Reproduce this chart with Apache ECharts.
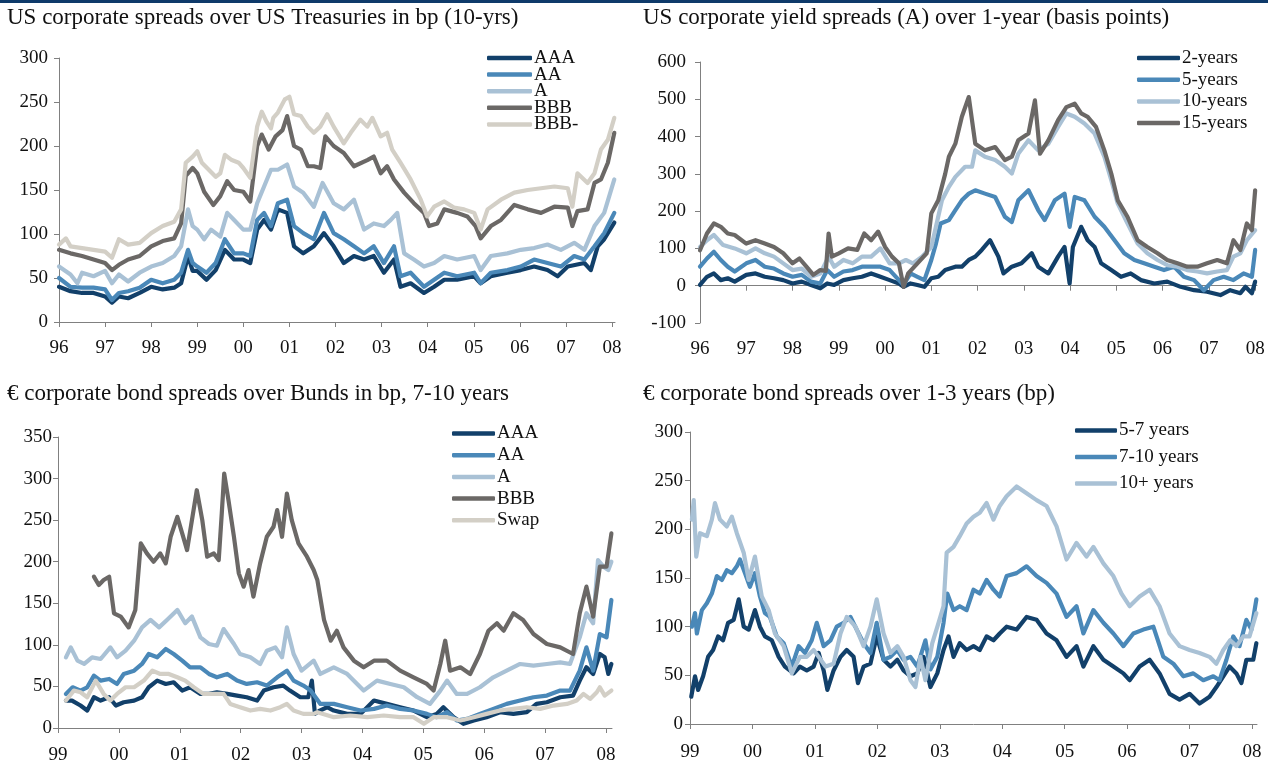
<!DOCTYPE html>
<html>
<head>
<meta charset="utf-8">
<script src="https://cdn.jsdelivr.net/npm/echarts@6/dist/echarts.min.js"></script>
<style>
html,body{margin:0;padding:0;background:#fff;}
#chart{width:1268px;height:765px;}
</style>
</head>
<body>
<div id="chart"></div>
<script>
// ---------------- DATA ----------------
const titles = [
  'US corporate spreads over US Treasuries in bp (10-yrs)',
  'US corporate yield spreads (A) over 1-year (basis points)',
  '\u20ac corporate bond spreads over Bunds in bp, 7-10 years',
  '\u20ac corporate bond spreads over 1-3 years (bp)'
];
const namesP1 = ['AAA', 'AA', 'A', 'BBB', 'BBB-'];
const namesP2 = ['2-years', '5-years', '10-years', '15-years'];
const namesP3 = ['AAA', 'AA', 'A', 'BBB', 'Swap'];
const namesP4 = ['5-7 years', '7-10 years', '10+ years'];
const yearsP1 = [1996,1997,1998,1999,2000,2001,2002,2003,2004,2005,2006,2007,2008];
const yearsP3 = [1999,2000,2001,2002,2003,2004,2005,2006,2007,2008];

// Panel 1: US corporate spreads over Treasuries (bp) [year, bp]
const usAAA = [[1996.0,40],[1996.25,35],[1996.5,33],[1996.75,33],[1997.0,29],[1997.15,22],[1997.3,29],[1997.5,27],[1997.75,33],[1998.0,40],[1998.25,37],[1998.5,39],[1998.65,44],[1998.8,75],[1998.9,58],[1999.0,58],[1999.2,48],[1999.4,59],[1999.6,82],[1999.8,71],[2000.0,71],[2000.15,67],[2000.3,105],[2000.45,116],[2000.6,105],[2000.75,128],[2000.95,124],[2001.1,86],[2001.3,78],[2001.53,86],[2001.75,101],[2001.96,86],[2002.18,67],[2002.4,75],[2002.62,71],[2002.83,75],[2003.05,56],[2003.27,71],[2003.41,40],[2003.63,44],[2003.92,33],[2004.14,40],[2004.36,48],[2004.64,48],[2005.01,52],[2005.15,44],[2005.37,52],[2005.73,56],[2006.02,59],[2006.31,63],[2006.6,59],[2006.82,52],[2007.04,63],[2007.4,67],[2007.54,59],[2007.69,86],[2007.83,94],[2008.05,113]];
const usAA = [[1996.0,50],[1996.25,40],[1996.5,39],[1996.75,39],[1997.0,37],[1997.15,25],[1997.3,33],[1997.5,35],[1997.75,39],[1998.0,48],[1998.25,44],[1998.5,48],[1998.65,56],[1998.8,82],[1998.9,67],[1999.0,63],[1999.2,56],[1999.4,67],[1999.6,94],[1999.8,78],[2000.0,78],[2000.15,75],[2000.3,116],[2000.45,124],[2000.6,109],[2000.75,135],[2000.95,139],[2001.1,109],[2001.3,101],[2001.53,94],[2001.75,124],[2001.96,101],[2002.18,94],[2002.4,86],[2002.62,78],[2002.83,86],[2003.05,67],[2003.27,86],[2003.41,52],[2003.63,56],[2003.92,40],[2004.14,48],[2004.36,56],[2004.64,52],[2005.01,56],[2005.15,44],[2005.37,56],[2005.73,59],[2006.02,63],[2006.31,71],[2006.6,67],[2006.89,63],[2007.18,75],[2007.4,71],[2007.62,86],[2007.83,101],[2008.05,124]];
const usA = [[1996.0,63],[1996.25,54],[1996.4,44],[1996.5,56],[1996.75,52],[1997.0,58],[1997.15,44],[1997.3,54],[1997.5,46],[1997.75,56],[1998.0,63],[1998.25,67],[1998.5,75],[1998.65,86],[1998.8,128],[1998.9,109],[1999.0,105],[1999.15,94],[1999.3,105],[1999.5,97],[1999.65,124],[1999.8,116],[2000.0,105],[2000.15,105],[2000.3,135],[2000.45,154],[2000.6,173],[2000.75,173],[2000.95,179],[2001.1,154],[2001.3,147],[2001.53,131],[2001.72,158],[2001.96,135],[2002.18,128],[2002.4,139],[2002.62,105],[2002.83,112],[2003.05,109],[2003.2,116],[2003.34,124],[2003.49,78],[2003.7,71],[2003.92,63],[2004.14,67],[2004.36,75],[2004.64,71],[2005.01,75],[2005.15,59],[2005.37,75],[2005.73,78],[2006.02,82],[2006.31,84],[2006.6,88],[2006.89,82],[2007.18,90],[2007.4,82],[2007.62,109],[2007.83,124],[2008.05,162]];
const usBBB = [[1996.0,82],[1996.25,78],[1996.5,75],[1996.75,71],[1997.0,67],[1997.15,59],[1997.3,65],[1997.5,71],[1997.75,75],[1998.0,86],[1998.25,92],[1998.5,95],[1998.65,112],[1998.75,166],[1998.9,175],[1999.0,169],[1999.15,148],[1999.35,133],[1999.5,143],[1999.65,160],[1999.8,150],[2000.0,148],[2000.15,137],[2000.3,200],[2000.4,213],[2000.55,196],[2000.7,211],[2000.85,218],[2000.95,234],[2001.1,200],[2001.25,196],[2001.4,177],[2001.53,177],[2001.67,175],[2001.78,211],[2001.96,200],[2002.18,192],[2002.4,177],[2002.69,184],[2002.83,188],[2002.98,169],[2003.12,177],[2003.27,162],[2003.49,147],[2003.7,135],[2003.92,124],[2004.03,109],[2004.21,112],[2004.36,128],[2004.64,124],[2004.86,120],[2005.04,109],[2005.15,95],[2005.37,109],[2005.59,116],[2005.88,133],[2006.17,128],[2006.46,124],[2006.75,131],[2007.04,130],[2007.14,109],[2007.25,126],[2007.47,128],[2007.62,158],[2007.76,162],[2007.91,181],[2008.05,215]];
const usBBBm = [[1996.0,88],[1996.15,95],[1996.25,86],[1996.5,84],[1996.75,82],[1997.0,80],[1997.15,73],[1997.3,94],[1997.5,88],[1997.75,90],[1998.0,101],[1998.25,109],[1998.5,114],[1998.65,128],[1998.75,181],[1998.9,188],[1999.0,194],[1999.1,181],[1999.25,173],[1999.4,165],[1999.5,169],[1999.6,190],[1999.75,184],[1999.9,181],[2000.0,175],[2000.15,164],[2000.3,222],[2000.4,239],[2000.5,228],[2000.6,220],[2000.65,232],[2000.75,238],[2000.9,253],[2001.0,256],[2001.1,236],[2001.25,234],[2001.4,222],[2001.53,215],[2001.67,222],[2001.82,236],[2001.96,222],[2002.18,203],[2002.33,215],[2002.54,230],[2002.69,222],[2002.8,232],[2002.98,211],[2003.12,215],[2003.23,196],[2003.41,181],[2003.63,162],[2003.85,139],[2003.99,120],[2004.14,131],[2004.36,137],[2004.57,130],[2004.79,128],[2005.01,124],[2005.15,105],[2005.3,128],[2005.59,139],[2005.88,147],[2006.17,150],[2006.46,152],[2006.75,154],[2007.04,152],[2007.14,131],[2007.25,169],[2007.47,158],[2007.62,169],[2007.76,196],[2007.91,207],[2008.05,232]];

// Panel 2: US A-rated yield spreads over 1-year (bp)
const us2y = [[1996.0,2],[1996.15,24],[1996.3,33],[1996.45,15],[1996.6,20],[1996.75,11],[1997.0,29],[1997.2,33],[1997.4,24],[1997.6,20],[1997.8,15],[1998.0,6],[1998.2,11],[1998.4,2],[1998.6,-7],[1998.75,6],[1998.9,2],[1999.1,15],[1999.3,20],[1999.5,24],[1999.7,33],[1999.9,24],[2000.1,15],[2000.3,6],[2000.4,-3],[2000.55,6],[2000.7,2],[2000.85,-3],[2001.0,20],[2001.15,24],[2001.3,42],[2001.52,51],[2001.66,51],[2001.81,69],[2001.95,78],[2002.09,96],[2002.27,122],[2002.45,78],[2002.56,33],[2002.74,51],[2002.95,60],[2003.17,87],[2003.31,51],[2003.53,33],[2003.74,78],[2003.88,104],[2003.99,6],[2004.06,104],[2004.24,158],[2004.38,122],[2004.53,104],[2004.67,60],[2004.89,42],[2005.1,24],[2005.31,33],[2005.53,15],[2005.82,6],[2006.1,11],[2006.39,-3],[2006.68,-12],[2006.96,-16],[2007.25,-25],[2007.46,-12],[2007.68,-20],[2007.79,-3],[2007.93,-20],[2008.0,11]];
const us5y = [[1996.0,51],[1996.15,73],[1996.3,91],[1996.45,69],[1996.6,51],[1996.75,38],[1997.0,60],[1997.2,69],[1997.4,51],[1997.6,46],[1997.8,33],[1998.0,24],[1998.2,29],[1998.4,11],[1998.6,6],[1998.75,42],[1998.9,24],[1999.1,38],[1999.3,42],[1999.5,51],[1999.7,51],[1999.9,51],[2000.1,42],[2000.3,15],[2000.4,2],[2000.55,33],[2000.7,24],[2000.85,15],[2001.0,69],[2001.1,113],[2001.2,167],[2001.38,176],[2001.52,203],[2001.66,229],[2001.81,247],[2001.95,256],[2002.16,247],[2002.38,238],[2002.59,185],[2002.74,171],[2002.88,229],[2003.1,256],[2003.31,203],[2003.45,176],[2003.67,229],[2003.88,247],[2003.99,158],[2004.1,238],[2004.31,229],[2004.53,185],[2004.74,158],[2004.96,122],[2005.17,87],[2005.39,69],[2005.6,60],[2005.82,51],[2006.03,42],[2006.25,51],[2006.46,24],[2006.68,15],[2006.89,-12],[2007.1,15],[2007.32,24],[2007.53,15],[2007.75,33],[2007.93,24],[2008.0,96]];
const us10y = [[1996.0,104],[1996.15,122],[1996.3,136],[1996.5,109],[1996.75,100],[1997.0,87],[1997.2,100],[1997.4,87],[1997.6,78],[1997.8,60],[1998.0,42],[1998.2,46],[1998.4,24],[1998.6,33],[1998.78,78],[1998.9,51],[1999.1,69],[1999.3,60],[1999.5,78],[1999.7,78],[1999.9,100],[2000.1,60],[2000.3,60],[2000.45,69],[2000.6,60],[2000.8,78],[2001.0,104],[2001.1,158],[2001.23,229],[2001.38,265],[2001.52,292],[2001.73,319],[2001.88,319],[2001.95,363],[2002.16,346],[2002.38,337],[2002.59,319],[2002.74,301],[2002.88,354],[2003.1,390],[2003.31,363],[2003.53,381],[2003.74,426],[2003.92,462],[2004.1,453],[2004.31,435],[2004.53,408],[2004.74,346],[2004.89,283],[2005.03,220],[2005.24,167],[2005.46,113],[2005.67,87],[2005.89,69],[2006.1,55],[2006.32,51],[2006.53,42],[2006.75,38],[2006.96,33],[2007.18,38],[2007.39,42],[2007.53,78],[2007.68,87],[2007.82,122],[2008.0,149]];
const us15y = [[1996.0,95],[1996.15,140],[1996.3,167],[1996.45,158],[1996.6,140],[1996.75,136],[1997.0,113],[1997.2,122],[1997.4,113],[1997.6,104],[1997.8,87],[1998.0,60],[1998.15,73],[1998.3,51],[1998.45,29],[1998.6,42],[1998.72,40],[1998.78,140],[1998.85,78],[1999.0,87],[1999.2,100],[1999.4,96],[1999.55,140],[1999.7,122],[1999.85,145],[2000.0,104],[2000.15,78],[2000.3,60],[2000.4,-3],[2000.5,33],[2000.7,60],[2000.9,87],[2001.0,194],[2001.15,229],[2001.3,300],[2001.38,346],[2001.52,381],[2001.66,453],[2001.81,506],[2001.95,381],[2002.16,363],[2002.38,372],[2002.59,337],[2002.74,346],[2002.88,390],[2003.1,408],[2003.24,497],[2003.35,354],[2003.53,390],[2003.74,444],[2003.92,479],[2004.1,488],[2004.24,462],[2004.38,453],[2004.56,426],[2004.74,363],[2004.89,301],[2005.03,229],[2005.24,185],[2005.46,122],[2005.67,104],[2005.89,87],[2006.1,69],[2006.32,60],[2006.53,51],[2006.75,51],[2006.96,60],[2007.18,69],[2007.39,60],[2007.53,122],[2007.68,96],[2007.82,167],[2007.93,149],[2008.0,256]];

// Panel 3: EUR corporate spreads over Bunds, 7-10y (bp)
const euAAA = [[1999.13,33],[1999.23,33],[1999.37,27],[1999.48,21],[1999.59,37],[1999.7,33],[1999.84,37],[1999.95,27],[2000.08,31],[2000.25,33],[2000.38,37],[2000.49,49],[2000.63,57],[2000.77,53],[2000.9,55],[2001.04,45],[2001.17,49],[2001.34,41],[2001.48,41],[2001.61,43],[2001.78,41],[2001.94,39],[2002.1,37],[2002.27,33],[2002.38,45],[2002.54,49],[2002.7,51],[2002.81,45],[2002.98,37],[2003.11,37],[2003.17,57],[2003.22,17],[2003.3,21],[2003.42,25],[2003.53,21],[2003.75,17],[2003.97,17],[2004.19,33],[2004.4,29],[2004.62,25],[2004.84,21],[2005.06,13],[2005.22,17],[2005.33,25],[2005.5,13],[2005.66,5],[2005.83,9],[2006.04,13],[2006.26,19],[2006.48,17],[2006.7,19],[2006.86,29],[2007.03,31],[2007.25,37],[2007.46,39],[2007.57,57],[2007.68,73],[2007.79,65],[2007.9,89],[2007.98,85],[2008.04,65],[2008.09,77]];
const euAA = [[1999.13,41],[1999.24,49],[1999.37,45],[1999.48,49],[1999.59,63],[1999.7,57],[1999.84,59],[1999.97,53],[2000.08,65],[2000.25,69],[2000.38,77],[2000.49,89],[2000.63,85],[2000.77,95],[2000.9,89],[2001.04,81],[2001.17,73],[2001.34,73],[2001.48,65],[2001.61,61],[2001.78,65],[2001.94,57],[2002.1,53],[2002.27,55],[2002.43,51],[2002.6,61],[2002.76,69],[2002.87,57],[2003.03,51],[2003.15,45],[2003.31,29],[2003.53,29],[2003.75,25],[2003.97,21],[2004.19,23],[2004.4,27],[2004.62,23],[2004.84,21],[2005.06,17],[2005.22,13],[2005.39,19],[2005.55,9],[2005.72,11],[2005.93,17],[2006.15,23],[2006.37,29],[2006.59,33],[2006.81,37],[2007.03,39],[2007.25,45],[2007.41,45],[2007.57,69],[2007.68,97],[2007.79,69],[2007.9,113],[2008.01,109],[2008.09,154]];
const euA = [[1999.13,85],[1999.21,97],[1999.32,81],[1999.43,77],[1999.56,85],[1999.7,83],[1999.86,97],[1999.97,85],[2000.11,93],[2000.25,105],[2000.38,121],[2000.52,130],[2000.66,121],[2000.79,130],[2000.96,142],[2001.09,126],[2001.2,134],[2001.34,109],[2001.48,101],[2001.61,99],[2001.72,119],[2001.89,101],[2001.99,89],[2002.16,85],[2002.32,77],[2002.43,93],[2002.57,97],[2002.68,85],[2002.76,121],[2002.87,89],[2003.0,69],[2003.2,81],[2003.31,65],[2003.53,73],[2003.75,65],[2004.02,45],[2004.24,57],[2004.46,53],[2004.68,49],[2004.9,37],[2005.11,29],[2005.28,45],[2005.39,57],[2005.55,41],[2005.72,41],[2005.93,49],[2006.15,61],[2006.37,69],[2006.59,77],[2006.81,75],[2007.03,77],[2007.25,79],[2007.41,77],[2007.57,109],[2007.68,138],[2007.79,126],[2007.87,202],[2007.96,194],[2008.04,190],[2008.09,200]];
const euBBB = [[1999.59,182],[1999.67,172],[1999.75,178],[1999.84,182],[1999.92,138],[2000.03,134],[2000.16,121],[2000.27,142],[2000.36,222],[2000.46,210],[2000.57,200],[2000.68,210],[2000.77,198],[2000.85,230],[2000.96,254],[2001.04,234],[2001.12,214],[2001.2,250],[2001.28,286],[2001.37,250],[2001.45,206],[2001.56,210],[2001.64,202],[2001.69,258],[2001.73,306],[2001.8,274],[2001.89,230],[2001.97,186],[2002.05,170],[2002.13,190],[2002.21,158],[2002.32,198],[2002.43,230],[2002.54,242],[2002.6,262],[2002.68,230],[2002.76,282],[2002.84,250],[2002.95,222],[2003.09,206],[2003.2,190],[2003.26,178],[2003.37,130],[2003.48,105],[2003.58,117],[2003.69,97],[2003.86,81],[2004.02,73],[2004.19,81],[2004.4,81],[2004.62,69],[2004.84,61],[2005.06,53],[2005.17,45],[2005.28,77],[2005.36,105],[2005.44,69],[2005.61,73],[2005.77,65],[2005.93,89],[2006.07,117],[2006.21,126],[2006.32,117],[2006.48,138],[2006.64,130],[2006.81,113],[2007.03,101],[2007.25,97],[2007.46,89],[2007.57,138],[2007.68,170],[2007.79,134],[2007.9,194],[2008.01,194],[2008.09,234]];
const euSwap = [[1999.13,33],[1999.26,45],[1999.37,43],[1999.48,37],[1999.62,57],[1999.75,41],[1999.86,33],[1999.97,41],[2000.11,49],[2000.25,49],[2000.41,57],[2000.55,69],[2000.68,65],[2000.82,65],[2000.96,61],[2001.09,57],[2001.23,49],[2001.39,41],[2001.56,41],[2001.72,41],[2001.83,29],[2001.99,25],[2002.16,21],[2002.32,23],[2002.49,21],[2002.65,25],[2002.76,29],[2002.87,21],[2003.03,17],[2003.2,17],[2003.26,19],[2003.53,13],[2003.8,15],[2004.08,13],[2004.35,15],[2004.62,13],[2004.84,13],[2005.01,5],[2005.17,13],[2005.39,13],[2005.61,9],[2005.83,13],[2006.04,17],[2006.26,21],[2006.48,23],[2006.7,25],[2006.92,23],[2007.14,27],[2007.36,29],[2007.52,33],[2007.63,41],[2007.74,35],[2007.85,43],[2007.9,49],[2007.98,39],[2008.09,45]];

// Panel 4: EUR corporate spreads over 1-3 years (bp)
const eu57 = [[1999.02,28],[1999.08,49],[1999.13,35],[1999.21,49],[1999.29,69],[1999.37,76],[1999.45,90],[1999.53,86],[1999.61,104],[1999.7,107],[1999.78,128],[1999.86,100],[1999.94,97],[2000.04,117],[2000.12,100],[2000.2,90],[2000.31,86],[2000.42,69],[2000.52,59],[2000.66,52],[2000.76,59],[2000.87,55],[2000.98,59],[2001.06,73],[2001.14,55],[2001.2,35],[2001.3,55],[2001.41,69],[2001.51,76],[2001.62,69],[2001.69,42],[2001.78,59],[2001.89,62],[2001.99,90],[2002.1,66],[2002.21,59],[2002.32,66],[2002.42,55],[2002.53,49],[2002.64,52],[2002.74,69],[2002.85,38],[2002.96,52],[2003.06,76],[2003.14,90],[2003.22,69],[2003.32,83],[2003.43,76],[2003.54,80],[2003.64,76],[2003.75,90],[2003.86,86],[2003.96,93],[2004.07,100],[2004.23,97],[2004.39,110],[2004.55,107],[2004.71,93],[2004.87,86],[2005.03,69],[2005.19,80],[2005.3,59],[2005.46,80],[2005.62,66],[2005.78,59],[2005.94,52],[2006.04,45],[2006.2,59],[2006.36,66],[2006.52,52],[2006.68,31],[2006.84,25],[2007.0,31],[2007.16,21],[2007.32,28],[2007.43,38],[2007.54,49],[2007.64,59],[2007.75,52],[2007.83,42],[2007.91,66],[2008.02,66],[2008.07,83]];
const eu710 = [[1999.03,100],[1999.08,114],[1999.11,93],[1999.19,117],[1999.27,124],[1999.35,134],[1999.43,152],[1999.51,148],[1999.59,158],[1999.67,155],[1999.75,162],[1999.8,169],[1999.88,155],[1999.96,141],[2000.04,155],[2000.12,131],[2000.2,114],[2000.28,110],[2000.39,90],[2000.5,83],[2000.63,59],[2000.74,80],[2000.84,73],[2000.95,86],[2001.03,104],[2001.14,80],[2001.25,86],[2001.35,100],[2001.46,104],[2001.57,110],[2001.67,97],[2001.78,83],[2001.89,73],[2001.99,104],[2002.1,66],[2002.21,69],[2002.32,76],[2002.42,66],[2002.53,69],[2002.64,59],[2002.77,86],[2002.85,56],[2002.96,69],[2003.06,104],[2003.12,134],[2003.22,117],[2003.32,121],[2003.43,117],[2003.54,138],[2003.64,134],[2003.75,148],[2003.86,138],[2003.96,131],[2004.07,152],[2004.23,155],[2004.39,162],[2004.55,152],[2004.71,145],[2004.87,134],[2005.03,110],[2005.19,121],[2005.3,93],[2005.46,117],[2005.62,104],[2005.78,93],[2005.94,80],[2006.1,93],[2006.26,97],[2006.42,100],[2006.58,69],[2006.74,62],[2006.9,49],[2007.06,52],[2007.22,45],[2007.38,49],[2007.48,45],[2007.59,66],[2007.7,90],[2007.8,80],[2007.91,107],[2007.99,97],[2008.07,128]];
const eu10p = [[1999.03,210],[1999.06,230],[1999.1,172],[1999.16,196],[1999.27,193],[1999.35,210],[1999.4,227],[1999.48,210],[1999.59,203],[1999.67,213],[1999.75,196],[1999.86,176],[1999.94,148],[2000.04,172],[2000.15,131],[2000.26,117],[2000.36,93],[2000.5,80],[2000.63,52],[2000.76,69],[2000.87,69],[2000.98,76],[2001.06,69],[2001.17,59],[2001.3,62],[2001.41,93],[2001.51,110],[2001.65,100],[2001.78,80],[2001.89,100],[2001.99,128],[2002.1,93],[2002.21,73],[2002.32,80],[2002.42,69],[2002.53,45],[2002.61,38],[2002.69,69],[2002.77,45],[2002.88,83],[2002.98,104],[2003.06,121],[2003.11,176],[2003.22,182],[2003.32,193],[2003.43,206],[2003.54,213],[2003.64,217],[2003.75,227],[2003.86,210],[2003.96,224],[2004.07,234],[2004.23,244],[2004.39,237],[2004.55,230],[2004.71,224],[2004.87,203],[2005.03,169],[2005.19,186],[2005.35,172],[2005.46,182],[2005.62,165],[2005.78,152],[2005.91,134],[2006.04,121],[2006.2,131],[2006.36,138],[2006.52,121],[2006.68,93],[2006.84,80],[2007.0,76],[2007.16,73],[2007.32,69],[2007.43,62],[2007.54,76],[2007.65,86],[2007.75,80],[2007.86,90],[2007.96,90],[2008.07,114]];

// ---------------- STYLE / LAYOUT ----------------
const FONT = '"Liberation Serif", "Times New Roman", Times, serif';
const TXT = '#111111';
const AXC = '#808080';
const C = { navy: '#12406a', mid: '#4a88b8', light: '#a9c1d5', gray: '#6b6866', beige: '#d3cfc6' };

const panels = [
  { grid: {left: 59, top: 58, width: 556, height: 264}, xmin: 1996, xmax: 2008.065, years: yearsP1,
    ymin: 0, ymax: 300, yint: 50, ylabMargin: 11, xlabMargin: 17,
    series: [[namesP1[0], usAAA, C.navy], [namesP1[1], usAA, C.mid], [namesP1[2], usA, C.light], [namesP1[3], usBBB, C.gray], [namesP1[4], usBBBm, C.beige]],
    title: {left: 7, top: 6},
    legend: {left: 487, cy: 58.5, gap: 16.6, w: 45} },
  { grid: {left: 700, top: 62, width: 557, height: 261}, xmin: 1996, xmax: 2008.04, years: yearsP1,
    ymin: -100, ymax: 600, yint: 100, ylabMargin: 14, xlabMargin: 17, zeroAxis: true,
    series: [[namesP2[0], us2y, C.navy], [namesP2[1], us5y, C.mid], [namesP2[2], us10y, C.light], [namesP2[3], us15y, C.gray]],
    title: {left: 643, top: 6},
    legend: {left: 1137, cy: 58.5, gap: 21.7, w: 43} },
  { grid: {left: 58, top: 437, width: 554, height: 291}, xmin: 1999, xmax: 2008.1, years: yearsP3,
    ymin: 0, ymax: 350, yint: 50, ylabMargin: 6, xlabMargin: 18,
    series: [[namesP3[0], euAAA, C.navy], [namesP3[1], euAA, C.mid], [namesP3[2], euA, C.light], [namesP3[3], euBBB, C.gray], [namesP3[4], euSwap, C.beige]],
    title: {left: 7, top: 382},
    legend: {left: 452, cy: 434, gap: 21.7, w: 43} },
  { grid: {left: 690, top: 432, width: 567, height: 292}, xmin: 1999, xmax: 2008.08, years: yearsP3,
    ymin: 0, ymax: 300, yint: 50, ylabMargin: 7, xlabMargin: 19,
    series: [[namesP4[0], eu57, C.navy], [namesP4[1], eu710, C.mid], [namesP4[2], eu10p, C.light]],
    title: {left: 643, top: 382},
    legend: {left: 1075, cy: 431, gap: 26.5, w: 42} }
];

const yrFmt = v => { const y = Math.round(v) % 100; return (y < 10 ? '0' : '') + y; };
const labelStyle = { fontFamily: FONT, fontSize: 19, color: TXT };

const option = {
  backgroundColor: '#ffffff',
  animation: false,
  title: [], grid: [], xAxis: [], yAxis: [], series: [], legend: [],
  graphic: [{ type: 'rect', shape: {x: 0, y: 0, width: 1268, height: 3}, style: {fill: '#0e3a6a'}, silent: true }]
};

panels.forEach((p, i) => {
  option.title.push({ text: titles[i], left: p.title.left, top: p.title.top, padding: 0,
    textStyle: { fontFamily: FONT, fontSize: 23, fontWeight: 'normal', color: TXT } });
  option.grid.push(Object.assign({ containLabel: false }, p.grid));
  const xi = option.xAxis.length;
  option.xAxis.push({
    type: 'value', gridIndex: i, min: p.xmin, max: p.xmax, position: 'bottom',
    splitLine: { show: false },
    axisLine: { show: !p.zeroAxis, onZero: false, lineStyle: { color: AXC, width: 1 } },
    axisTick: { show: !p.zeroAxis, length: 5, lineStyle: { color: AXC }, customValues: p.years },
    axisLabel: Object.assign({ margin: p.xlabMargin, formatter: yrFmt, customValues: p.years }, labelStyle)
  });
  if (p.zeroAxis) {
    option.xAxis.push({
      type: 'value', gridIndex: i, min: p.xmin, max: p.xmax, position: 'bottom',
      splitLine: { show: false },
      axisLine: { show: true, onZero: true, lineStyle: { color: AXC, width: 1 } },
      axisTick: { show: true, length: 5, lineStyle: { color: AXC }, customValues: p.years },
      axisLabel: { show: false }
    });
  }
  option.yAxis.push({
    type: 'value', gridIndex: i, min: p.ymin, max: p.ymax, interval: p.yint,
    splitLine: { show: false },
    axisLine: { show: true, lineStyle: { color: AXC, width: 1 } },
    axisTick: { show: true, length: 5, lineStyle: { color: AXC } },
    axisLabel: Object.assign({ margin: p.ylabMargin }, labelStyle)
  });
  p.series.forEach((s, k) => {
    option.series.push({
      type: 'line', name: s[0], data: s[1], xAxisIndex: xi, yAxisIndex: i,
      showSymbol: false, symbol: 'none', smooth: false, silent: true,
      lineStyle: { color: s[2], width: 4.2, cap: 'round', join: 'round' },
      itemStyle: { color: s[2] }, z: 2 + k
    });
    option.legend.push({
      data: [{ name: s[0], icon: 'roundRect' }], left: p.legend.left, top: p.legend.cy + k * p.legend.gap - 10,
      orient: 'vertical', padding: 0, itemWidth: p.legend.w, itemHeight: 4.5,
      selectedMode: false,
      itemStyle: { color: s[2], borderWidth: 0 },
      textStyle: { fontFamily: FONT, fontSize: 19, color: TXT, padding: [0, 0, 0, -3] }
    });
  });
});

const chart = echarts.init(document.getElementById('chart'), null, { renderer: 'canvas' });
chart.setOption(option);
</script>
</body>
</html>
